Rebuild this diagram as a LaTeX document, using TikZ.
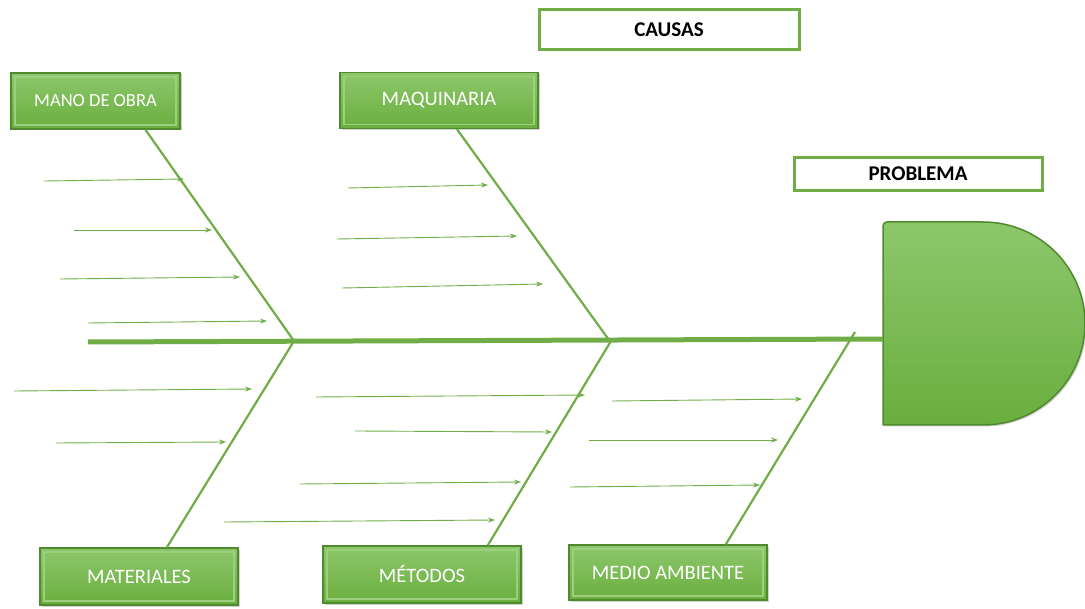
\documentclass[tikz,border=0pt]{standalone}
\usepackage{fontspec}
\setmainfont{Carlito}
\usetikzlibrary{arrows.meta,calc,shadows}
\definecolor{lg}{HTML}{70AD47}
\definecolor{gtop}{HTML}{8DC76C}
\definecolor{gbot}{HTML}{6AAE3E}
\definecolor{gdark}{HTML}{4F8B2C}
\definecolor{glight}{HTML}{9CCF7E}
\tikzset{
  greenbox/.style={rectangle, top color=gtop, bottom color=gbot, draw=gdark, line width=1.4pt,
    minimum width=198, minimum height=56, inner sep=0pt, text=white, font=\fontsize{20.5}{24}\selectfont,
    drop shadow={shadow xshift=1.5pt, shadow yshift=-1.5pt, fill=black!35, opacity=0.5},
    path picture={\draw[glight, line width=1.2pt]
      ($(path picture bounding box.south west)+(4pt,4pt)$) rectangle
      ($(path picture bounding box.north east)+(-4pt,-4pt)$);}},
  titlebox/.style={rectangle, fill=white, draw=lg, line width=3pt, inner sep=0pt,
    font=\bfseries\fontsize{21}{24}\selectfont, text=black},
  bone/.style={draw=lg, line width=2.2pt},
  spine/.style={draw=lg, line width=5pt},
  rib/.style={draw=lg, line width=0.9pt, -{Stealth[length=7pt,width=5pt]}}
}
\begin{document}
\begin{tikzpicture}[x=1pt,y=-1pt]
\useasboundingbox (0,0) rectangle (1085,609);
% title boxes
\node[titlebox, minimum width=260, minimum height=40] (causas) at (669,29.5) {CAUSAS};
\node[titlebox, minimum width=248, minimum height=33] (problema) at (918,174) {PROBLEMA};
% head
\shade[top color=gtop, bottom color=gbot, draw=gdark, line width=1.5pt, drop shadow={shadow xshift=1.5pt, shadow yshift=-1.5pt, fill=black!35, opacity=0.5}]
  (883,425) -- (883,226) [rounded corners=4pt] -- (883,222) [sharp corners] -- (983,222)
  .. controls (1039.3,222) and (1085,267.4) .. (1085,323.5)
  .. controls (1085,379.6) and (1039.3,425) .. (983,425) -- cycle;
\coordinate (headL) at (883,339);
\coordinate (tail) at (88,342);
% spine
\draw[spine] (tail) -- (headL);
% junctions
\coordinate (j1) at (294,341);
\coordinate (j2) at (609,340);
\coordinate (j3) at (611,341);
\coordinate (j4) at (855,332);
% category boxes
\node[greenbox, minimum width=169, font=\fontsize{18.5}{22}\selectfont] (mano) at (95.5,101) {MANO DE OBRA};
\node[greenbox] (maq) at (439,100.5) {MAQUINARIA};
\node[greenbox, minimum height=57] (mat) at (139,576.5) {MATERIALES};
\node[greenbox, minimum height=57] (met) at (422,574.5) {MÉTODOS};
\node[greenbox, minimum height=55] (med) at (668,572.5) {MEDIO AMBIENTE};
% bones
\draw[bone] ($(mano.south west)!0.793!(mano.south east)$) -- (j1);
\draw[bone] ($(maq.south west)!0.59!(maq.south east)$) -- (j2);
\draw[bone] (j1) -- ($(mat.north west)!0.64!(mat.north east)$);
\draw[bone] (j3) -- ($(met.north west)!0.83!(met.north east)$);
\draw[bone] (j4) -- ($(med.north west)!0.79!(med.north east)$);
% ribs
\foreach \i/\xa/\ya/\xb/\yb in {
  1/44/181/184/179, 2/74/230/212/230, 3/60/279/240/277, 4/88/323/267/321,
  5/348/188/488/185, 6/337/239/517/236, 7/342/288/543/284,
  8/14/391/252/389, 9/56/443/226/442,
  10/316/397/585/395, 11/355/431/552/432, 12/300/484/521/482, 13/224/522/495/520,
  14/612/401/802/399, 15/589/440/778/440, 16/570/487/760/485}
{
  \coordinate (s\i) at (\xa,\ya);
  \coordinate (e\i) at (\xb,\yb);
  \draw[rib] (s\i) -- (e\i);
}
\end{tikzpicture}
\end{document}
